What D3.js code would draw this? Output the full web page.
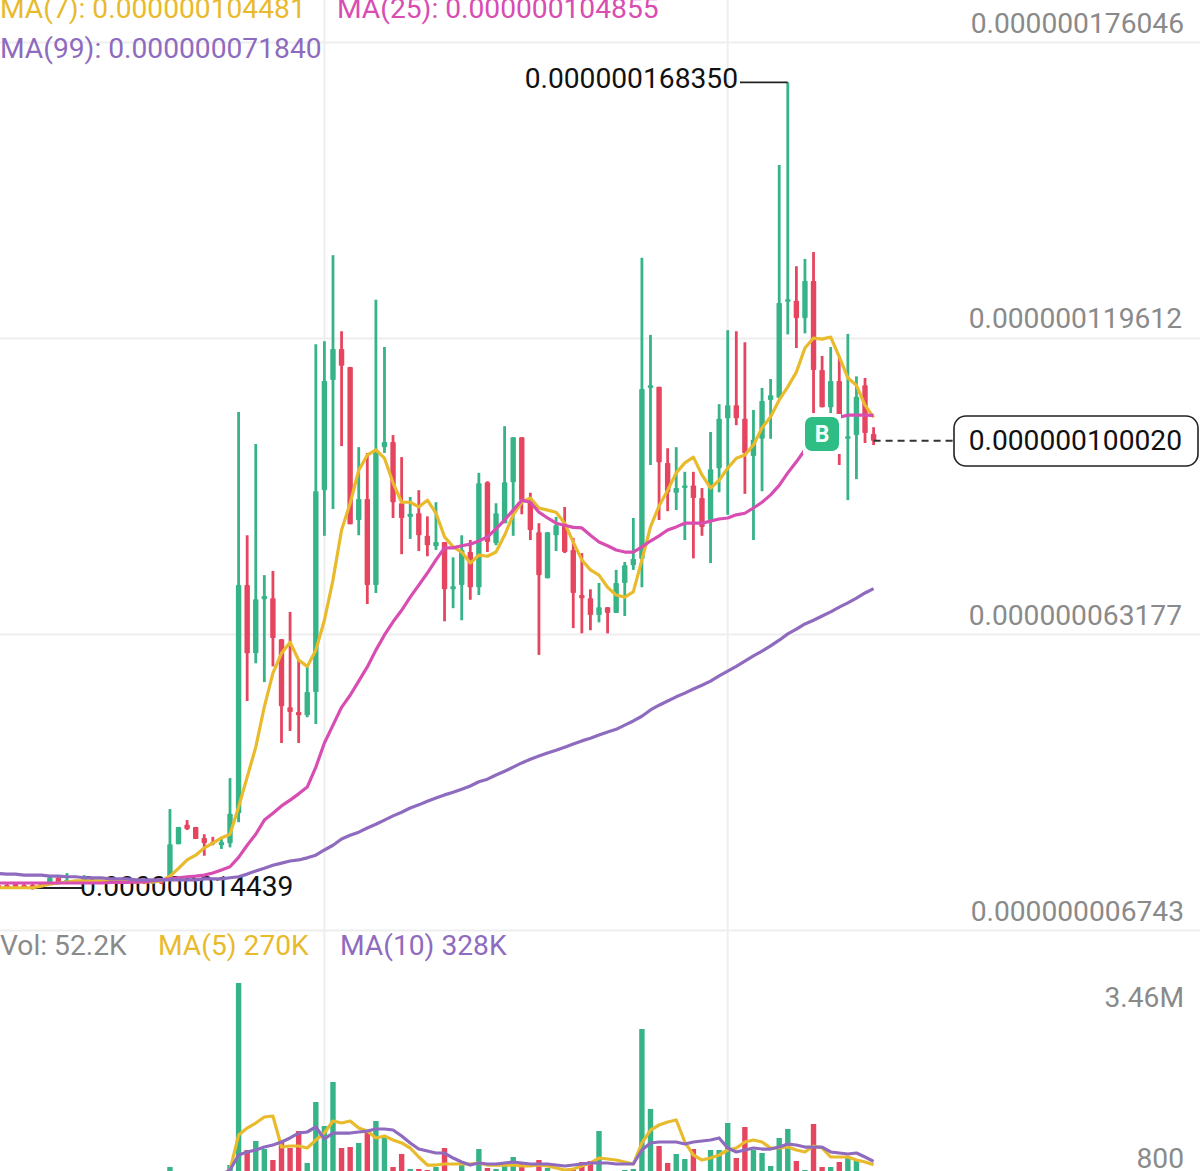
<!DOCTYPE html>
<html><head><meta charset="utf-8">
<script src="https://cdnjs.cloudflare.com/ajax/libs/d3/7.8.5/d3.min.js"></script>
<style>html,body{margin:0;padding:0;background:#fff;overflow:hidden}svg{display:block}text{font-family:Roboto,sans-serif}</style>
</head><body><svg id="c" width="1200" height="1171"></svg>
<script>
// Prices in units of 1e-9
const opens=[15.3,15.3,15.5,15.3,15.3,15.7,15.7,16.7,15.9,16.1,16.1,16.1,15.7,16.1,16.1,15.7,16.1,16.1,15.7,15.9,
16.9,23.1,26.8,26.4,24.3,23.5,22.9,23.3,29.0,72.5,
59.5,69.8,70.0,62.2,49.2,48.3,47.7,52.1,90.6,111.6,
117.5,114.1,84.9,88.9,72.5,98.8,99.8,88.1,85.5,86.2,
81.9,79.9,80.7,71.7,72.5,78.8,72.1,92.1,80.5,84.3,
92.1,100.7,88.7,82.6,73.8,82.0,83.9,79.2,70.6,70.0,
66.8,68.3,67.2,72.9,76.3,77.5,110.1,110.3,95.8,90.1,
91.0,91.5,89.1,84.9,94.8,104.3,106.8,104.2,97.1,100.4,
107.8,108.2,126.5,126.7,123.4,130.5,113.5,106.4,111.4,100.4,
101.1,110.6,101.3];
const closes=[14.8,14.8,15.0,14.8,14.8,15.3,16.7,15.7,16.3,15.7,16.7,15.7,16.1,15.7,15.7,16.1,15.7,15.7,16.1,15.7,
23.1,26.4,26.0,24.1,23.3,23.3,23.5,28.9,72.5,59.5,
69.8,70.4,62.4,49.4,48.3,47.7,52.1,90.4,111.4,117.5,
114.3,84.1,88.9,72.5,98.3,99.8,88.3,85.3,86.1,82.0,
80.1,80.7,71.7,72.3,79.2,72.1,91.9,80.7,86.2,92.1,
100.7,88.7,83.0,74.4,82.6,83.9,78.8,71.0,70.0,66.8,
68.3,67.2,72.9,76.3,77.5,109.9,110.6,95.9,90.2,91.0,
91.5,89.1,83.6,94.6,104.2,106.8,104.3,97.7,100.2,107.6,
108.7,126.3,127.0,123.4,130.5,113.5,106.4,111.4,104.5,100.9,
108.4,101.5,100.02];
const highs=[15.5,15.5,15.7,15.5,15.5,15.9,17.0,17.2,17.6,16.3,17.2,16.3,16.3,16.3,16.3,16.3,16.3,16.3,16.3,16.1,
29.8,26.4,27.7,26.4,25.0,24.5,24.3,35.7,105.5,82.0,
99.4,74.4,75.2,62.2,67.4,58.2,56.9,118.4,119.0,135.4,
120.9,114.1,98.8,97.7,126.9,117.9,101.1,96.9,89.3,90.6,
85.6,88.3,80.7,77.8,82.0,81.1,93.9,92.3,88.1,102.8,
100.7,100.7,90.1,84.3,82.6,85.5,87.4,81.5,78.6,71.7,
72.9,68.3,75.4,76.9,85.3,134.9,120.2,110.3,98.6,98.8,
94.1,94.1,91.0,101.7,107.0,121.1,120.9,118.8,105.9,110.1,
111.8,152.6,168.35,133.3,134.7,136.0,116.2,117.9,115.8,120.4,
112.3,112.0,102.6];
const lows=[14.6,14.6,14.8,14.6,14.439,15.1,15.5,15.5,15.5,15.5,15.7,15.5,15.5,15.5,15.5,15.5,15.5,15.5,15.5,15.5,
16.9,23.1,25.8,24.1,20.9,22.9,22.2,22.5,27.3,50.4,
57.6,54.0,57.0,42.4,44.7,42.4,47.3,46.0,81.9,87.0,
99.0,84.1,82.0,68.9,71.0,97.7,85.3,78.4,81.3,79.0,
78.0,79.2,65.6,68.1,65.8,69.7,70.6,78.8,80.1,84.3,
81.9,86.0,81.1,59.2,73.8,79.0,78.6,64.3,63.3,63.9,
65.4,63.3,67.2,66.6,75.4,72.1,95.4,84.9,86.6,86.8,
81.1,77.6,81.9,76.7,90.2,85.9,103.0,89.9,81.1,90.4,
100.4,108.2,120.3,117.7,120.5,105.3,106.4,105.3,95.4,88.7,
92.7,99.6,99.2];
const ma7=[14.8,14.8,14.8,14.8,14.8,15.1,15.5,15.7,15.9,16.1,16.1,16.1,16.1,16.1,16.1,16.1,15.9,15.9,15.9,16.1,
17.0,18.5,20.1,21.0,22.4,23.3,24.3,25.0,30.2,35.9,
41.6,49.3,55.7,59.5,61.6,58.2,57.0,60.1,65.8,73.5,
83.0,88.1,94.4,97.3,98.3,96.7,92.0,88.3,88.3,87.4,
88.7,86.2,81.7,79.8,78.8,76.7,78.2,78.0,78.8,82.0,
85.9,88.3,89.1,87.2,86.8,86.4,84.3,80.7,77.3,75.4,
74.4,72.1,70.6,70.2,71.2,77.3,83.6,87.6,90.6,93.9,
95.8,96.9,93.5,91.0,92.5,94.8,96.7,97.3,99.2,102.5,
104.6,107.8,110.3,113.1,117.7,119.6,119.4,119.8,116.0,112.0,
110.6,106.8,104.481];
const ma25=[15.7,15.7,15.7,15.7,15.7,15.7,15.7,15.7,15.7,15.7,15.7,15.7,15.7,15.8,15.8,15.8,15.9,15.9,16.1,16.3,
16.5,16.7,16.9,17.0,17.2,17.6,18.2,18.8,20.6,22.9,
25.0,27.7,29.0,30.4,31.5,32.7,34.0,37.8,42.4,45.8,
49.2,51.5,54.2,56.9,60.1,63.0,65.5,67.7,70.2,72.5,
74.8,77.3,79.6,79.6,80.0,80.3,80.9,81.7,83.2,84.9,
86.8,88.7,88.3,86.4,85.3,84.3,83.9,83.5,83.4,82.0,
80.7,80.0,79.2,78.8,78.8,79.8,80.9,81.9,83.0,83.6,
84.3,84.3,84.3,84.7,85.1,85.3,85.9,86.2,87.2,88.3,
89.7,91.5,93.9,96.0,98.3,100.2,102.1,103.6,104.5,104.9,
104.9,104.9,104.855];
const ma99=[17.5,17.4,17.4,17.2,17.2,17.2,17.0,17.0,16.9,16.9,16.7,16.7,16.7,16.5,16.5,16.5,16.3,16.3,16.3,16.3,
16.3,16.3,16.3,16.3,16.5,16.5,16.5,16.7,16.9,17.4,
18.0,18.5,19.1,19.5,19.9,20.1,20.5,21.0,22.0,22.9,
24.1,24.8,25.4,26.2,26.9,27.7,28.5,29.2,30.0,30.6,
31.3,31.9,32.5,33.0,33.6,34.2,35.0,35.5,36.3,37.0,
37.8,38.6,39.3,39.9,40.5,41.0,41.6,42.2,42.8,43.3,
43.9,44.5,45.0,45.8,46.6,47.5,48.7,49.6,50.4,51.2,
51.9,52.7,53.4,54.2,55.2,56.1,57.0,58.0,59.0,59.9,
60.9,62.0,63.2,64.1,65.1,65.8,66.6,67.4,68.3,69.1,
70.0,71.0,71.84];
// Volumes in thousands
const volumes=[70,70,80,70,90,80,70,80,70,60,80,70,60,70,60,70,60,70,60,70,
228,88,70,88,70,88,70,263,3460,527,
685,544,351,702,562,860,299,1370,948,1721,
562,579,650,825,1036,755,228,457,193,193,
176,228,562,88,263,140,544,211,193,316,
404,281,140,351,211,123,123,193,316,334,
860,88,105,176,193,2652,1247,597,299,457,
369,544,88,527,527,1001,386,931,527,474,
246,738,896,334,176,983,228,228,316,404,
351,140,52.2];
const volMa5=[88,176,790,913,1001,1106,1124,579,597,597,
562,702,825,1036,1001,1036,913,860,738,773,
702,650,562,404,263,263,281,281,281,281,
299,263,263,263,263,246,246,263,246,211,
176,193,246,299,386,369,351,316,281,650,
878,966,1018,1054,667,439,351,386,439,527,
562,667,702,667,562,562,579,527,492,597,
562,404,404,404,351,316,270];
const volMa10=[88,176,439,492,527,579,615,667,738,825,
843,931,720,825,825,825,843,860,896,896,
878,773,650,544,509,474,474,386,316,263,
299,281,281,299,316,299,281,281,281,263,
246,263,281,299,299,299,281,281,281,527,
650,667,667,667,632,667,685,702,738,562,
492,527,562,544,544,579,632,615,579,579,
579,492,474,457,474,404,328];
const volMaStart=26;
const priceTicks=[176.046,119.612,63.177,6.743];
const volTickLabels=["3.46M","800"];
const gridDates=[38,85];

const GREEN="#36B488",RED="#E6455F",YEL="#E8BA2C",MAG="#D84DB2",PUR="#8E6BBE",GRID="#EEEEEE",GREY="#8A8A8A";
const svg=d3.select("#c");
const x=d3.scaleLinear().domain([0,102]).range([-1.68,873.6]);
const y=d3.scaleLinear().domain([6.743,176.046]).range([930,42]);
const yV=d3.scaleLinear().domain([0,3460]).range([1180,983]);
const fmt=v=>(v*1e-9).toFixed(12);
const FS=28.2;

// grid + axes
const ax=svg.append("g").call(d3.axisRight(y).tickValues(priceTicks).tickSize(1200).tickFormat(fmt));
ax.select(".domain").remove();
ax.selectAll(".tick line").attr("stroke",GRID).attr("stroke-width",2);
ax.selectAll(".tick text").attr("x",(d,i)=>[1184,1182,1182,1184][i]).attr("dy",0).attr("y",-10).attr("text-anchor","end")
  .attr("fill",GREY).style("font-size",FS+"px").style("font-family","Roboto,sans-serif");
svg.append("g").selectAll("line").data(gridDates).join("line")
  .attr("x1",d=>x(d)).attr("x2",d=>x(d)).attr("y1",0).attr("y2",1171).attr("stroke",GRID).attr("stroke-width",2);

// low annotation sits under the marks
const hi=d3.max(highs),lo=d3.min(lows),hiI=highs.indexOf(hi),loI=lows.indexOf(lo);
svg.append("line").attr("x1",x(loI)).attr("x2",82).attr("y1",888).attr("y2",888).attr("stroke","#222").attr("stroke-width",1.8);
svg.append("text").attr("x",80).attr("y",896).attr("fill","#111").style("font-size",FS+"px").text(fmt(lo));

// candles
const idx=d3.range(opens.length);
const col=i=>closes[i]>=opens[i]?GREEN:RED;
svg.append("g").selectAll("line").data(idx).join("line")
  .attr("x1",i=>x(i)).attr("x2",i=>x(i)).attr("y1",i=>y(highs[i])).attr("y2",i=>y(lows[i]))
  .attr("stroke",col).attr("stroke-width",2.8);
svg.append("g").selectAll("rect").data(idx).join("rect")
  .attr("x",i=>x(i)-2.7).attr("width",5.4)
  .attr("y",i=>y(Math.max(opens[i],closes[i])))
  .attr("height",i=>Math.max(1.5,Math.abs(y(opens[i])-y(closes[i]))))
  .attr("fill",col).attr("rx",.8);

// price MAs
const ln=d3.line().x((d,i)=>x(i)).y(d=>y(d));
[[ma7,YEL],[ma25,MAG],[ma99,PUR]].forEach(([a,c])=>svg.append("path").datum(a).attr("d",ln)
  .attr("fill","none").attr("stroke",c).attr("stroke-width",3.2).attr("stroke-linejoin","round"));

// Buy badge
const bc=822;
svg.append("rect").attr("x",bc-19).attr("y",414).attr("width",38).attr("height",40).attr("fill","#fff");
svg.append("rect").attr("x",bc-17).attr("y",417).attr("width",34).attr("height",34).attr("rx",7).attr("fill","#2EBD85");
svg.append("text").attr("x",bc).attr("y",442).attr("text-anchor","middle").attr("fill","#F3FFFA")
  .style("font-size","23px").style("font-weight",700).text("B");

// high annotation
svg.append("line").attr("x1",740).attr("x2",x(hiI)).attr("y1",y(hi)).attr("y2",y(hi)).attr("stroke","#222").attr("stroke-width",1.8);
svg.append("text").attr("x",738).attr("y",88).attr("text-anchor","end").attr("fill","#111").style("font-size",FS+"px").text(fmt(hi));

// last price
const last=closes[closes.length-1];
svg.append("line").attr("x1",x(opens.length-1)).attr("x2",954).attr("y1",y(last)).attr("y2",y(last))
  .attr("stroke","#333").attr("stroke-width",1.8).attr("stroke-dasharray","7 5");
svg.append("rect").attr("x",954).attr("y",416).attr("width",244).attr("height",50).attr("rx",12)
  .attr("fill","#fff").attr("stroke","#222").attr("stroke-width",1.6);
svg.append("text").attr("x",1182).attr("y",450).attr("text-anchor","end").attr("fill","#111").style("font-size",FS+"px").text(fmt(last));

// legends
const lab=(t,xp,yp,c)=>svg.append("text").attr("x",xp).attr("y",yp).attr("fill",c).style("font-size",FS+"px").text(t);
lab("MA(7): "+fmt(ma7[ma7.length-1]),0,18,YEL);
lab("MA(25): "+fmt(ma25[ma25.length-1]),337,18,MAG);
lab("MA(99): "+fmt(ma99[ma99.length-1]),0,58,PUR);
lab("Vol: 52.2K",0,955,GREY);
lab("MA(5) 270K",158,955,YEL);
lab("MA(10) 328K",340,955,PUR);

// volume pane
svg.append("g").selectAll("rect").data(idx).join("rect")
  .attr("x",i=>x(i)-2.7).attr("width",5.4).attr("y",i=>yV(volumes[i])).attr("height",i=>yV(0)-yV(volumes[i])).attr("fill",col);
const lnV=d3.line().x((d,i)=>x(i+volMaStart)).y(d=>yV(d));
[[volMa5,YEL],[volMa10,PUR]].forEach(([a,c])=>svg.append("path").datum(a).attr("d",lnV)
  .attr("fill","none").attr("stroke",c).attr("stroke-width",3.2).attr("stroke-linejoin","round"));
svg.append("g").selectAll("text").data(volTickLabels).join("text")
  .attr("x",1184).attr("y",(d,i)=>[1007,1168][i]).attr("text-anchor","end").attr("fill",GREY).style("font-size",FS+"px").text(d=>d);
</script></body></html>
